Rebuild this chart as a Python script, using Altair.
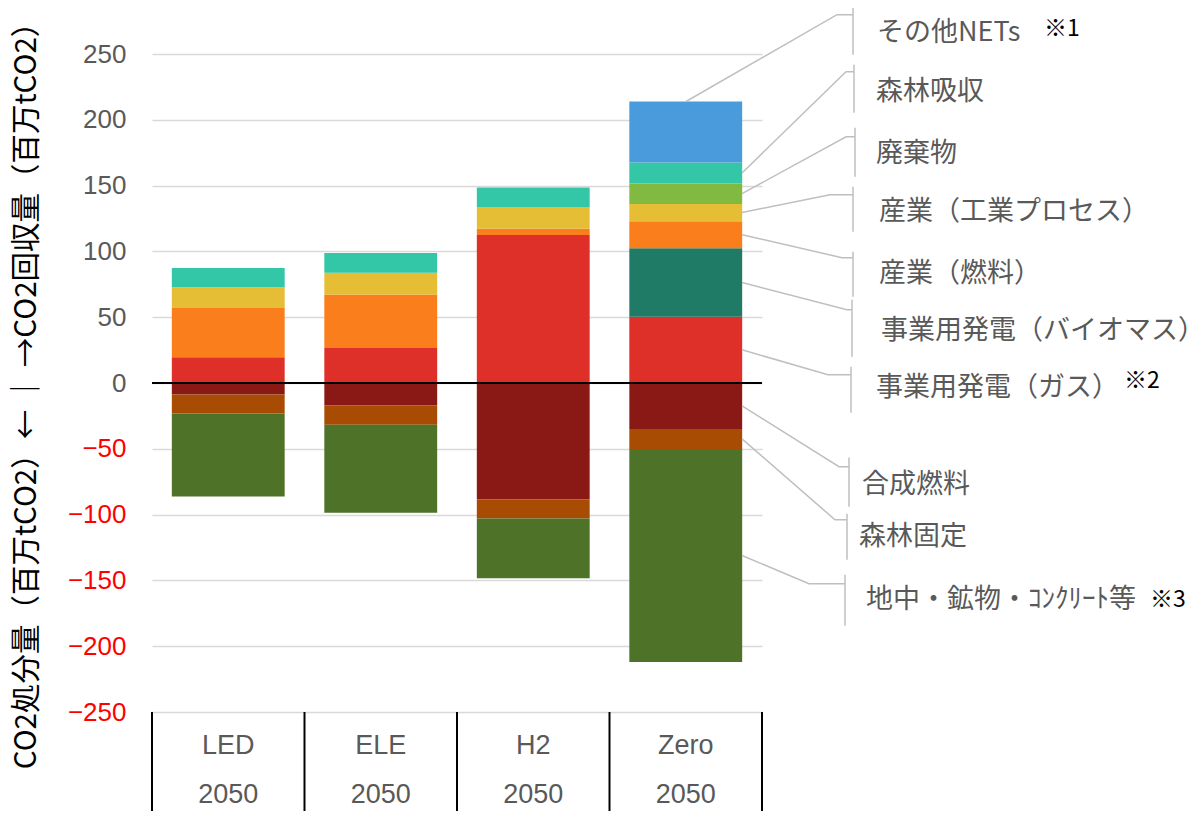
import altair as alt
import pandas as pd

# ---------------- data ----------------
scenarios = ["LED", "ELE", "H2", "Zero"]
year_labels = ["2050", "2050", "2050", "2050"]

# stacking order: positives from zero upward, then negatives from zero downward
categories = ["事業用発電（ガス）", "事業用発電（バイオマス）", "産業（燃料）", "産業（工業プロセス）",
              "廃棄物", "森林吸収", "その他NETs", "合成燃料", "森林固定", "地中・鉱物・ｺﾝｸﾘｰﾄ等"]
colors = ["#DE2F28", "#1F7A66", "#FA7F1C", "#E6BE36", "#82BA41", "#33C7A8", "#4A9BDB",
          "#8A1815", "#A84C04", "#4E7227"]

led = [19.5, 0, 37.5, 15.7, 0, 14.7, 0, -8.8, -14.4, -63.0]
ele = [26.6, 0, 40.7, 16.5, 0, 15.0, 0, -16.9, -14.9, -66.7]
h2 = [112.5, 0, 4.7, 16.5, 0, 14.9, 0, -88.3, -14.7, -45.3]
zero = [50.4, 51.9, 20.7, 13.1, 15.5, 15.9, 46.4, -34.9, -15.2, -161.9]

y_ticks = [-250, -200, -150, -100, -50, 0, 50, 100, 150, 200, 250]
y_title = "CO2処分量（百万tCO2）←  ｜  →CO2回収量（百万tCO2）"

# legend (callout) order, top to bottom, and footnote marks
legend_order = ["その他NETs", "森林吸収", "廃棄物", "産業（工業プロセス）", "産業（燃料）",
                "事業用発電（バイオマス）", "事業用発電（ガス）", "合成燃料", "森林固定", "地中・鉱物・ｺﾝｸﾘｰﾄ等"]
notes = ["※1", "※2", "※3"]

# ---------------- layout (annotation positions: x in px from plot left, y in axis units) -------------
BAR_EDGE_X = 590
BAR_CENTER_X = 534
elbow_x = [685, 694, 694, 678, 690, 695, 676, 687, 683, 657]
elbow_y = [279.9, 236.6, 187.1, 143.1, 95.2, 55.7, 6.3, -63.6, -103.9, -152.5]
bracket_x = [701, 702, 703, 701, 701, 700, 699, 697, 695, 693]
bracket_top = [286.0, 241.9, 194.0, 149.2, 99.8, 63.3, 12.4, -56.7, -99.3, -145.7]
bracket_bot = [249.5, 205.4, 156.8, 115.0, 65.6, 20.0, -22.6, -94.0, -134.3, -184.4]
text_x = [725, 724, 724, 727, 727, 729, 724, 710, 707, 714]
text_y = [266.2, 221.4, 174.3, 130.2, 83.1, 39.7, -3.6, -77.3, -116.7, -164.7]
note_x = [892, 972, 998]
note_y = [269.0, 1.5, -165.0]

# ---------------- tables ----------------
rows = []
for scen, vals in zip(scenarios, [led, ele, h2, zero]):
    for i, (c, v) in enumerate(zip(categories, vals)):
        if v != 0:
            rows.append({"scenario": scen, "category": c, "value": v, "order": i})
df = pd.DataFrame(rows)

# Zero bar segment mid-points (for leader lines)
mids = {}
pos_cum, neg_cum = 0.0, 0.0
for c, v in zip(categories, zero):
    if v >= 0:
        mids[c] = pos_cum + v / 2
        pos_cum += v
    else:
        mids[c] = neg_cum + v / 2
        neg_cum += v
top_total = pos_cum

line_rows = []
for i, lab in enumerate(legend_order):
    if i == 0:
        bx, by = BAR_CENTER_X, top_total
    else:
        bx, by = BAR_EDGE_X, mids[lab]
    line_rows.append({"label": lab, "k": 0, "px": bx, "py": by})
    line_rows.append({"label": lab, "k": 1, "px": elbow_x[i], "py": elbow_y[i]})
    line_rows.append({"label": lab, "k": 2, "px": bracket_x[i], "py": elbow_y[i]})
lines_df = pd.DataFrame(line_rows)

ann_df = pd.DataFrame({
    "label": legend_order, "bx": bracket_x, "btop": bracket_top, "bbot": bracket_bot,
    "tx": text_x, "ty": text_y,
})
notes_df = pd.DataFrame({"note": notes, "nx": note_x, "ny": note_y})
cat_df = pd.DataFrame({"scenario": scenarios, "year": year_labels})

W, H = 610, 658
yscale = alt.Scale(domain=[-250, 250], nice=False, zero=False)
xscale = alt.Scale(domain=scenarios, paddingInner=0, paddingOuter=0)
GREY = "#595959"
LINE = "#BFBFBF"
JP = "Noto Sans CJK JP"

y_axis = alt.Axis(values=y_ticks, grid=True, gridColor="#D9D9D9", gridWidth=1.5,
                  domain=False, ticks=False, labelPadding=26,
                  labelFont="Liberation Sans", labelFontSize=26,
                  labelColor={"condition": {"test": "datum.value < 0", "value": "#FF0000"},
                              "value": GREY},
                  title=y_title, titleFont=JP, titleFontSize=29.5,
                  titleFontWeight="normal", titleColor="black",
                  titleX=-126, titleY=334, titleAngle=270,
                  titleAlign="center", titleBaseline="middle")

bars = alt.Chart(df).mark_bar(width=alt.RelativeBandSize(0.74)).encode(
    x=alt.X("scenario:N", sort=scenarios, scale=xscale, axis=None),
    y=alt.Y("value:Q", stack="zero", scale=yscale, axis=y_axis),
    color=alt.Color("category:N", scale=alt.Scale(domain=categories, range=colors), legend=None),
    order=alt.Order("order:Q"),
)

zero_line = alt.Chart(pd.DataFrame({"v": [0]})).mark_rule(color="black", strokeWidth=2).encode(
    y=alt.Y("v:Q", scale=yscale, axis=y_axis)
)

sep = alt.Chart(cat_df).mark_rule(color="black", strokeWidth=2).encode(
    x=alt.X("scenario:N", sort=scenarios, scale=xscale, bandPosition=0, axis=None),
    y=alt.value(H), y2=alt.value(H + 107),
)
sep_last = alt.Chart(cat_df.tail(1)).mark_rule(color="black", strokeWidth=2).encode(
    x=alt.X("scenario:N", sort=scenarios, scale=xscale, bandPosition=1, axis=None),
    y=alt.value(H), y2=alt.value(H + 107),
)
cat_text = alt.Chart(cat_df).mark_text(font="Liberation Sans", fontSize=27, color=GREY,
                                        baseline="middle").encode(
    x=alt.X("scenario:N", sort=scenarios, scale=xscale, axis=None),
    y=alt.value(692), text="scenario:N",
)
year_text = alt.Chart(cat_df).mark_text(font="Liberation Sans", fontSize=27, color=GREY,
                                         baseline="middle").encode(
    x=alt.X("scenario:N", sort=scenarios, scale=xscale, axis=None),
    y=alt.value(741), text="year:N",
)

leaders = alt.Chart(lines_df).mark_line(color=LINE, strokeWidth=1.5).encode(
    x=alt.X("px:Q", scale=None, axis=None),
    y=alt.Y("py:Q", scale=yscale, axis=y_axis),
    detail="label:N",
    order="k:Q",
)
brackets = alt.Chart(ann_df).mark_rule(color=LINE, strokeWidth=1.5).encode(
    x=alt.X("bx:Q", scale=None, axis=None),
    y=alt.Y("btop:Q", scale=yscale, axis=y_axis),
    y2="bbot:Q",
)
labels = alt.Chart(ann_df).mark_text(font=JP, fontSize=27, color=GREY, align="left",
                                      baseline="middle").encode(
    x=alt.X("tx:Q", scale=None, axis=None),
    y=alt.Y("ty:Q", scale=yscale, axis=y_axis),
    text="label:N",
)
note_text = alt.Chart(notes_df).mark_text(font=JP, fontSize=23, color="black", align="left",
                                           baseline="middle").encode(
    x=alt.X("nx:Q", scale=None, axis=None),
    y=alt.Y("ny:Q", scale=yscale, axis=y_axis),
    text="note:N",
)

chart = alt.layer(
    bars, zero_line, sep, sep_last, cat_text, year_text, leaders, brackets, labels, note_text
).properties(
    width=W, height=H,
    background="white",
    autosize=alt.AutoSizeParams(type="none"),
    padding={"left": 144, "top": 46, "right": 432, "bottom": 99},
).configure_view(stroke=None)

chart.save("out.html", embed_options={"renderer": "svg", "actions": False})
